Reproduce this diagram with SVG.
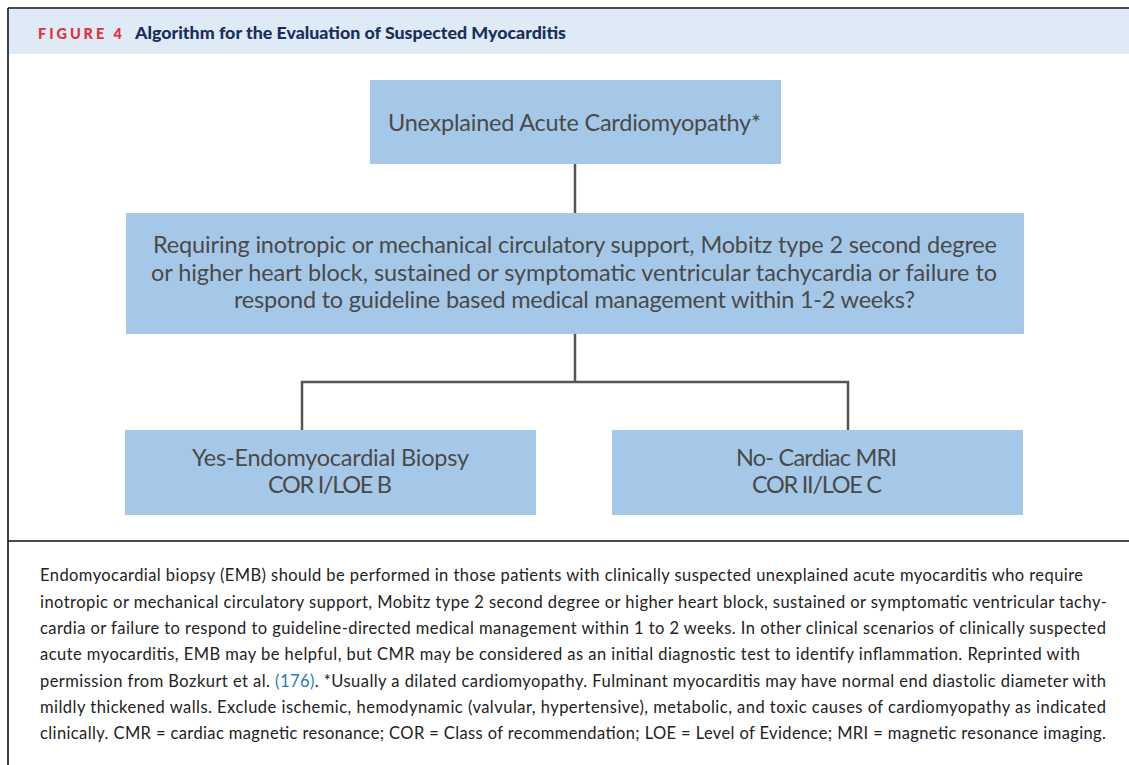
<svg xmlns="http://www.w3.org/2000/svg" width="1129" height="765" viewBox="0 0 1129 765">
<style>
.box{fill:#a6c8e8}
.nt{font-family:Lato,"Liberation Sans",sans-serif;font-size:23.5px;fill:#4a4a4a;text-anchor:start}
.cap{font-family:Lato,"Liberation Sans",sans-serif;font-size:16.5px;fill:#222}
.conn{fill:none;stroke:#555;stroke-width:2.5}
.frame{fill:none;stroke:#111;stroke-width:1.6}
</style>
<rect x="0" y="0" width="1129" height="765" fill="#fff"/>
<g id="header">
<rect x="9" y="9" width="1120" height="45" fill="#deeaf6"/>
<text x="38" y="39" font-family="Lato,'Liberation Sans',sans-serif" font-size="14.5" font-weight="900" fill="#e0303a" textLength="84" lengthAdjust="spacing">FIGURE 4</text>
<text x="135" y="39" font-family="Lato,'Liberation Sans',sans-serif" font-size="16" font-weight="900" fill="#1a2f5a" textLength="431" lengthAdjust="spacingAndGlyphs">Algorithm for the Evaluation of Suspected Myocarditis</text>
</g>
<g id="frame">
<line class="frame" x1="8" y1="8" x2="1129" y2="8"/>
<line class="frame" x1="8" y1="8" x2="8" y2="765"/>
<line class="frame" x1="8" y1="541" x2="1129" y2="541"/>
</g>
<g id="connectors">
<line class="conn" x1="575" y1="164" x2="575" y2="213"/>
<path class="conn" d="M575,334 V382 M302,430 V382 H848 V430"/>
</g>
<g id="n1">
<rect class="box" x="370" y="80" width="411" height="84"/>
<text class="nt" x="388" y="131" textLength="373">Unexplained Acute Cardiomyopathy*</text>
</g>
<g id="n2">
<rect class="box" x="126" y="213" width="898" height="121"/>
<text class="nt" x="153" y="253" textLength="844">Requiring inotropic or mechanical circulatory support, Mobitz type 2 second degree</text>
<text class="nt" x="151" y="281" textLength="846">or higher heart block, sustained or symptomatic ventricular tachycardia or failure to</text>
<text class="nt" x="234" y="308" textLength="681">respond to guideline based medical management within 1-2 weeks?</text>
</g>
<g id="n3">
<rect class="box" x="125" y="430" width="411" height="85"/>
<text class="nt" x="192" y="466" textLength="277">Yes-Endomyocardial Biopsy</text>
<text class="nt" x="268" y="493" textLength="124">COR I/LOE B</text>
</g>
<g id="n4">
<rect class="box" x="612" y="430" width="411" height="85"/>
<text class="nt" x="736" y="466" textLength="161">No- Cardiac MRI</text>
<text class="nt" x="752" y="493" textLength="130">COR II/LOE C</text>
</g>
<g id="caption">
<text class="cap" x="40" y="581" textLength="1043">Endomyocardial biopsy (EMB) should be performed in those patients with clinically suspected unexplained acute myocarditis who require</text>
<text class="cap" x="40" y="608" textLength="1067">inotropic or mechanical circulatory support, Mobitz type 2 second degree or higher heart block, sustained or symptomatic ventricular tachy-</text>
<text class="cap" x="40" y="634" textLength="1066">cardia or failure to respond to guideline-directed medical management within 1 to 2 weeks. In other clinical scenarios of clinically suspected</text>
<text class="cap" x="40" y="660" textLength="1040">acute myocarditis, EMB may be helpful, but CMR may be considered as an initial diagnostic test to identify inflammation. Reprinted with</text>
<text class="cap" x="40" y="687" textLength="1066">permission from Bozkurt et al. <tspan fill="#2a7ab8">(176)</tspan>. *Usually a dilated cardiomyopathy. Fulminant myocarditis may have normal end diastolic diameter with</text>
<text class="cap" x="40" y="713" textLength="1066">mildly thickened walls. Exclude ischemic, hemodynamic (valvular, hypertensive), metabolic, and toxic causes of cardiomyopathy as indicated</text>
<text class="cap" x="40" y="739" textLength="1066">clinically. CMR = cardiac magnetic resonance; COR = Class of recommendation; LOE = Level of Evidence; MRI = magnetic resonance imaging.</text>
</g>
</svg>
